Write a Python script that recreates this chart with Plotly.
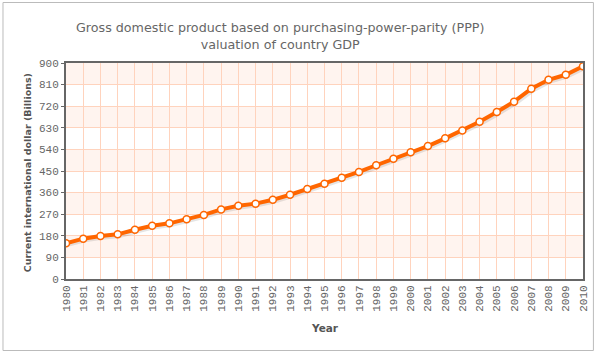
import plotly.graph_objects as go

years = list(range(1980, 2011))
gdp = [149, 168, 179, 186, 205, 222, 232, 249, 267, 290, 305, 314, 330, 351, 375, 397,
       422, 446, 474, 501, 528, 554, 586, 619, 655, 696, 739, 793, 830, 851, 886]
y_ticks = [0, 90, 180, 270, 360, 450, 540, 630, 720, 810, 900]

title_text = "Gross domestic product based on purchasing-power-parity (PPP)<br>valuation of country GDP"
x_title = "Year"
y_title = "Current international dollar (Billions)"

W, H = 602, 353
L, R, T, B = 66, 15, 63, 74
pw, ph = W - L - R, H - T - B

def px_x(p):
    return (p - L) / pw

def px_y(p):
    return 1 - (p - T) / ph

fig = go.Figure()

# shadow of the line (offset derived from the data)
fig.add_trace(go.Scatter(
    x=[v + 0.1 for v in years], y=[v - 7 for v in gdp], mode="lines",
    line=dict(color="rgba(0,0,0,0.10)", width=4), hoverinfo="skip", showlegend=False))

fig.add_trace(go.Scatter(
    x=years, y=gdp, mode="lines+markers",
    line=dict(color="#FF6600", width=4),
    marker=dict(size=7, color="white", line=dict(color="#FF6600", width=1.5)),
    showlegend=False))

shapes = []
# alternating bands
for i in range(1, len(y_ticks) - 1, 2):
    shapes.append(dict(type="rect", xref="x", yref="y", x0=1980, x1=2010,
                       y0=y_ticks[i], y1=y_ticks[i + 1], fillcolor="#FFF4EF",
                       line=dict(width=0), layer="below"))
# outer border
shapes.append(dict(type="rect", xref="paper", yref="paper",
                   x0=px_x(2.5), x1=px_x(597.5), y0=px_y(350.5), y1=px_y(2.5),
                   line=dict(color="#BBBBBB", width=1), fillcolor="rgba(0,0,0,0)"))

tick_font = dict(family="Liberation Mono", size=11, color="#666666")

fig.update_layout(
    width=W, height=H,
    margin=dict(l=L, r=R, t=T, b=B, pad=0),
    paper_bgcolor="white", plot_bgcolor="white",
    shapes=shapes,
    font=dict(family="DejaVu Sans", size=10, color="#666666"),
    annotations=[
        dict(text=title_text, xref="paper", yref="paper", x=px_x(282), y=px_y(36),
             xanchor="center", yanchor="middle", showarrow=False,
             font=dict(family="DejaVu Sans", size=12.7, color="#666666")),
        dict(text="<b>" + x_title + "</b>", xref="paper", yref="paper", x=px_x(327), y=px_y(328),
             xanchor="center", yanchor="middle", showarrow=False,
             font=dict(family="DejaVu Sans", size=10.5, color="#555555")),
        dict(text="<b>" + y_title + "</b>", xref="paper", yref="paper", x=px_x(27), y=px_y(173),
             xanchor="center", yanchor="middle", showarrow=False, textangle=-90,
             font=dict(family="DejaVu Sans", size=9.5, color="#555555")),
    ],
    xaxis=dict(range=[1980, 2010], tickmode="array", tickvals=years,
               ticktext=[str(v) for v in years], tickangle=-90,
               showgrid=True, gridcolor="#FFD3BD", gridwidth=1,
               showline=True, linecolor="#666666", linewidth=2, mirror=True,
               ticks="", zeroline=False, fixedrange=True,
               tickfont=tick_font),
    yaxis=dict(range=[0, 900], tickmode="array", tickvals=y_ticks,
               showgrid=True, gridcolor="#FFD3BD", gridwidth=1,
               showline=True, linecolor="#666666", linewidth=2, mirror=True,
               ticks="outside", ticklen=3, tickcolor="#666666", zeroline=False,
               tickfont=tick_font),
)

fig.write_html("out.html")
